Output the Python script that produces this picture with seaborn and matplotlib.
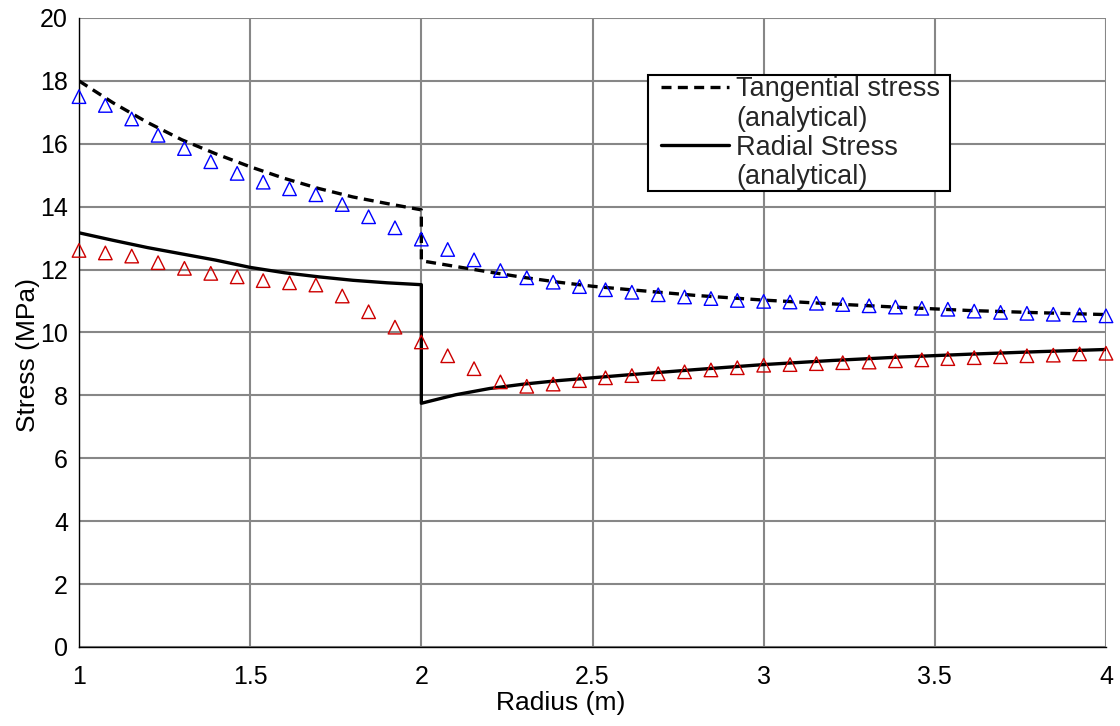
import matplotlib
matplotlib.use("Agg")
import matplotlib.pyplot as plt
from matplotlib.lines import Line2D
from matplotlib.legend_handler import HandlerLine2D
from matplotlib.ticker import FormatStrFormatter, MultipleLocator
import seaborn as sns

# ---- Data ----
# Analytical solutions (vertical jump at r = 2 m)
r_analytical = [1.0, 1.1, 1.2, 1.3, 1.4, 1.5, 1.6, 1.7, 1.8, 1.9, 2.0,
                2.0, 2.1, 2.2, 2.3, 2.4, 2.5, 2.6, 2.8, 3.0, 3.2, 3.4, 3.6, 3.8, 4.0]
tangential_analytical = [18.0, 17.3, 16.68, 16.13, 15.68, 15.27, 14.9, 14.58, 14.31, 14.1, 13.9,
                         12.28, 12.1, 11.92, 11.75, 11.6, 11.47, 11.37, 11.18, 11.03, 10.91,
                         10.8, 10.7, 10.63, 10.57]
radial_analytical = [13.17, 12.93, 12.7, 12.5, 12.3, 12.07, 11.9, 11.77, 11.66, 11.58, 11.52,
                     7.75, 8.02, 8.22, 8.36, 8.47, 8.56, 8.65, 8.82, 8.98, 9.11,
                     9.22, 9.31, 9.39, 9.46]

# Numerical results
r_numerical = [1.000, 1.077, 1.154, 1.231, 1.308, 1.385, 1.462, 1.538, 1.615, 1.692,
               1.769, 1.846, 1.923, 2.000, 2.077, 2.154, 2.231, 2.308, 2.385, 2.462,
               2.538, 2.615, 2.692, 2.769, 2.846, 2.923, 3.000, 3.077, 3.154, 3.231,
               3.308, 3.385, 3.462, 3.538, 3.615, 3.692, 3.769, 3.846, 3.923, 4.000]
tangential_numerical = [17.50, 17.22, 16.79, 16.27, 15.85, 15.43, 15.06, 14.78, 14.57, 14.38,
                        14.07, 13.68, 13.33, 12.97, 12.64, 12.31, 11.97, 11.74, 11.60, 11.46,
                        11.36, 11.28, 11.20, 11.13, 11.08, 11.02, 10.99, 10.97, 10.93, 10.89,
                        10.85, 10.81, 10.77, 10.74, 10.68, 10.64, 10.61, 10.58, 10.56, 10.53]
radial_numerical = [12.61, 12.53, 12.43, 12.22, 12.04, 11.88, 11.77, 11.65, 11.58, 11.51,
                    11.16, 10.66, 10.17, 9.70, 9.26, 8.85, 8.43, 8.29, 8.36, 8.47,
                    8.56, 8.63, 8.69, 8.75, 8.81, 8.88, 8.96, 8.98, 9.01, 9.04,
                    9.06, 9.10, 9.13, 9.17, 9.20, 9.23, 9.26, 9.28, 9.32, 9.34]

legend_labels = ["Tangential stress", "(analytical)", "Radial Stress", "(analytical)"]
x_label = "Radius (m)"
y_label = "Stress (MPa)"

# ---- Style ----
sns.set_theme(style="white")
plt.rcParams["font.family"] = ["Liberation Sans", "DejaVu Sans"]
FS_TICK = 18
FS_LABEL = 19
FS_LEG = 19.5

fig = plt.figure(figsize=(11.2, 7.26), dpi=100)
ax = fig.add_axes([79 / 1120, 1 - 647 / 726, (1106 - 79) / 1120, (647 - 18) / 726])

grid_color = "#878787"
ax.set_xlim(1, 4)
ax.set_ylim(0, 20)
ax.xaxis.set_major_locator(MultipleLocator(0.5))
ax.yaxis.set_major_locator(MultipleLocator(2))
ax.xaxis.set_major_formatter(FormatStrFormatter("%g"))
ax.yaxis.set_major_formatter(FormatStrFormatter("%g"))
ax.grid(True, color=grid_color, linewidth=1.5, zorder=0)
ax.set_axisbelow(True)

for s in ["top", "right"]:
    ax.spines[s].set_visible(False)
for s in ["left", "bottom"]:
    ax.spines[s].set_color("black")
    ax.spines[s].set_linewidth(1.0)
    ax.spines[s].set_zorder(5)

ax.tick_params(axis="both", which="major", direction="out", length=5, width=1,
               color="black", labelsize=FS_TICK, labelcolor="black")
ax.tick_params(axis="y", pad=3)
ax.tick_params(axis="x", pad=8)

# Analytical lines
dash_style = (0, (3.0, 1.9))
sns.lineplot(x=r_analytical, y=tangential_analytical, sort=False, estimator=None,
             color="black", linewidth=2.4, linestyle=dash_style, ax=ax, zorder=4)
sns.lineplot(x=r_analytical, y=radial_analytical, sort=False, estimator=None,
             color="black", linewidth=2.4, linestyle="-", ax=ax, zorder=4)

# Numerical markers
sns.scatterplot(x=r_numerical, y=tangential_numerical, marker="^", s=95,
                color="#0000ff", facecolor="none", edgecolor="#0000ff", linewidth=1.0,
                ax=ax, legend=False, zorder=6, clip_on=False)
sns.scatterplot(x=r_numerical, y=radial_numerical, marker="^", s=95,
                color="#cc0000", facecolor="none", edgecolor="#cc0000", linewidth=1.0,
                ax=ax, legend=False, zorder=6, clip_on=False)

ax.set_xlabel(x_label, fontsize=FS_LABEL, color="black")
ax.set_ylabel(y_label, fontsize=FS_LABEL, color="black")
ax.xaxis.set_label_coords((561 - 79) / 1027, (647 - 691) / 629)
ax.yaxis.set_label_coords((40 - 79) / 1027, (647 - 355) / 629)


class RightAlignedLine(HandlerLine2D):
    """Draw the legend line in the right part of the handle box."""
    def __init__(self, line_len, **kw):
        super().__init__(**kw)
        self.line_len = line_len

    def get_xdata(self, legend, xdescent, ydescent, width, height, fontsize):
        x1 = -xdescent + width
        return [x1 - self.line_len, x1], [x1 - self.line_len, x1]


handles = [
    Line2D([], [], color="black", linewidth=2.4, linestyle=dash_style),
    Line2D([], [], color="none"),
    Line2D([], [], color="black", linewidth=2.4, linestyle="-"),
    Line2D([], [], color="none"),
]
hmap = {h: RightAlignedLine(line_len=68 / 1.3889) for h in handles}
x0 = (648 - 79) / 1027
y1 = (647 - 75) / 629
w = (950 - 648) / 1027
h = (190 - 75) / 629
leg = ax.legend(handles, legend_labels, handler_map=hmap, loc="upper left",
                bbox_to_anchor=(x0, y1 - h, w, h), mode="expand",
                borderaxespad=0, fontsize=FS_LEG, frameon=True, fancybox=False,
                framealpha=1, edgecolor="black", handlelength=(80 / 1.3889) / FS_LEG,
                handletextpad=(7 / 1.3889) / FS_LEG,
                labelspacing=0.12, borderpad=0.05)
leg.get_frame().set_linewidth(1.5)
leg.set_zorder(10)

fig.savefig("out.png", dpi=100)
